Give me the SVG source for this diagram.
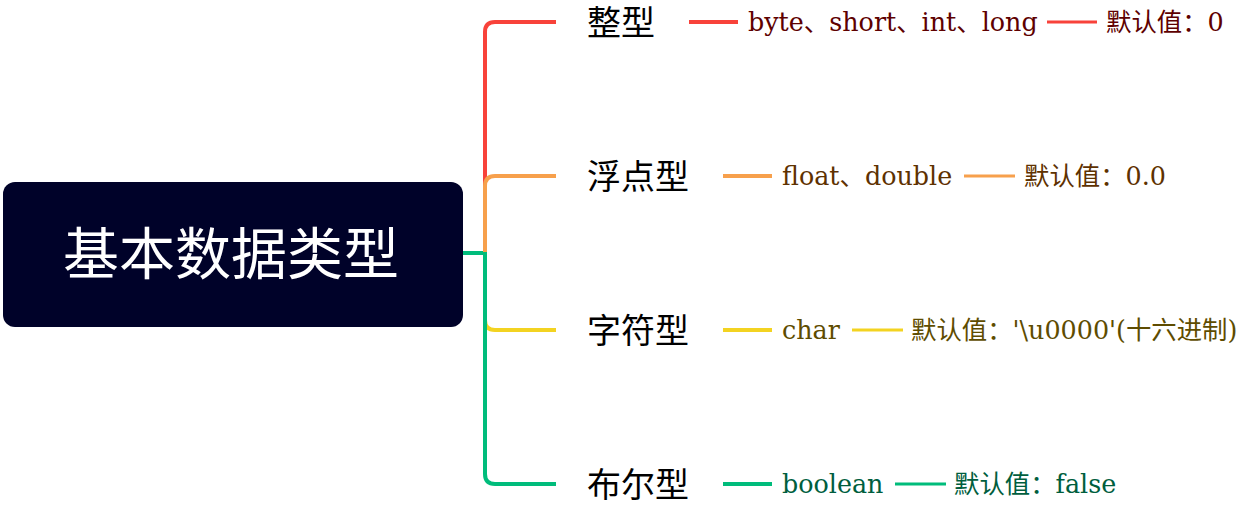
<svg xmlns="http://www.w3.org/2000/svg" width="1242" height="507" viewBox="0 0 1242 507">
<style>
.l1{font-family:"Noto Sans CJK SC","Noto Sans",sans-serif;font-size:34px;fill:#000}
.l2{font-family:"DejaVu Serif","Noto Sans CJK SC",serif;font-size:25.4px}
.c{fill:none;stroke-width:4;stroke-linecap:butt}
.red{stroke:#F8423A}.org{stroke:#F7A04C}.yel{stroke:#F3D321}.grn{stroke:#00BC7B}
.tr{fill:#5E0000}.to{fill:#5E3100}.ty{fill:#5E4C00}.tg{fill:#005E3E}
</style>
<rect width="1242" height="507" fill="#fff"/>
<g id="connectors">
<path class="c red" d="M485 252 V32 Q485 22 495 22 H556"/>
<path class="c yel" d="M485 253 V320 Q485 330 495 330 H556"/>
<path class="c grn" d="M462 253 H485 V474 Q485 484 495 484 H556"/>
<path class="c org" d="M485 252 V186 Q485 176 495 176 H556"/>
<path class="c red" d="M689 22 H738"/>
<path class="c org" d="M723 176 H772"/>
<path class="c yel" d="M723 330 H772"/>
<path class="c grn" d="M723 484 H772"/>
<path class="c red" style="stroke-width:3" d="M1047 22 H1097"/>
<path class="c org" style="stroke-width:3" d="M964 176 H1015"/>
<path class="c yel" style="stroke-width:3" d="M852 330 H903"/>
<path class="c grn" style="stroke-width:3" d="M895 484 H946"/>
</g>
<g id="root">
<rect x="3" y="182" width="460" height="145" rx="12" fill="#000229"/>
<text x="231" y="274" text-anchor="middle" font-family="Noto Sans CJK SC, sans-serif" font-size="56" fill="#fff">基本数据类型</text>
</g>
<g id="n-int"><text class="l1" x="587" y="35">整型</text></g>
<g id="n-float"><text class="l1" x="587" y="189">浮点型</text></g>
<g id="n-char"><text class="l1" x="587" y="343">字符型</text></g>
<g id="n-bool"><text class="l1" x="587" y="497">布尔型</text></g>
<g id="n-int-types"><text class="l2 tr" x="748" y="31">byte、short、int、long</text></g>
<g id="n-float-types"><text class="l2 to" x="782" y="185">float、double</text></g>
<g id="n-char-types"><text class="l2 ty" x="782" y="339">char</text></g>
<g id="n-bool-types"><text class="l2 tg" x="782" y="493">boolean</text></g>
<g id="n-int-def"><text class="l2 tr" x="1106" y="31">默认值：0</text></g>
<g id="n-float-def"><text class="l2 to" x="1024" y="185">默认值：0.0</text></g>
<g id="n-char-def"><text class="l2 ty" x="911" y="339">默认值：'\u0000'(十六进制)</text></g>
<g id="n-bool-def"><text class="l2 tg" x="954" y="493">默认值：false</text></g>
</svg>
